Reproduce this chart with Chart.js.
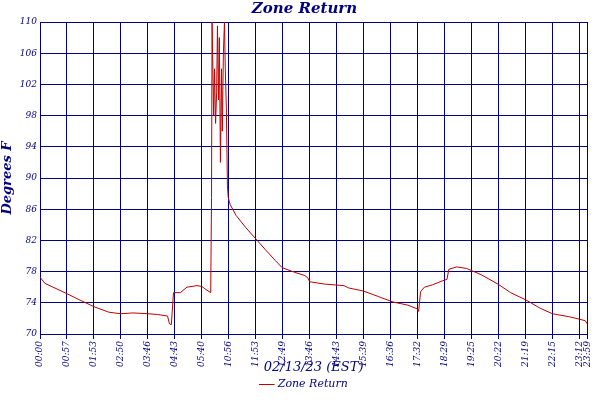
<!DOCTYPE html>
<html><head><meta charset="utf-8">
<script src="https://cdn.jsdelivr.net/npm/chart.js@4"></script>
<style>html,body{margin:0;padding:0;background:#fff}#w{width:600px;height:400px}</style>
</head><body><div id="w"><canvas id="c"></canvas></div>
<script>
const tickPos = [0,1,2,3,4,5,6,7,8,9,10,11,12,13,14,15,16,17,18,19,20,20.29];
const tickLabels = ["00:00","00:57","01:53","02:50","03:46","04:43","05:40","10:56","11:53","12:49","13:46","14:43","15:39","16:36","17:32","18:29","19:25","20:22","21:19","22:15","23:12","23:59"];
const xs = [0,0.18,0.98,1.45,2,2.55,2.98,3.45,4,4.36,4.73,4.8,4.87,4.95,5.2,5.45,5.82,6,6.11,6.33,6.36,6.38,6.44,6.47,6.51,6.55,6.58,6.62,6.65,6.69,6.73,6.76,6.8,6.84,6.87,6.91,6.95,6.98,7.05,7.27,7.64,8,8.36,8.73,8.98,9.45,9.82,9.93,10,10.55,11.27,11.45,12,12.55,13.09,13.64,14,14.04,14.11,14.25,14.55,14.91,15.09,15.16,15.45,15.82,16.36,16.98,17.45,18,18.55,19,19.64,20,20.22,20.29];
const temps = [77.3,76.5,75.2,74.4,73.5,72.8,72.6,72.7,72.6,72.5,72.3,71.3,71.2,75.3,75.3,76.0,76.2,76.1,75.8,75.3,87.5,110,98,104,97,101,109.5,100,108,92,104,96,106,110,104,99,89,87.5,86.6,85.2,83.6,82.2,80.8,79.4,78.5,77.9,77.5,77.2,76.7,76.4,76.2,75.9,75.5,74.8,74.1,73.7,73.2,72.9,75.4,76,76.3,76.8,77,78.3,78.6,78.4,77.6,76.4,75.3,74.4,73.3,72.6,72.2,71.9,71.7,71.3];
const NAVY='#000080';
const F='DejaVu Serif';
new Chart(document.getElementById('c'),{
 type:'line',
 data:{datasets:[{label:'Zone Return',data:xs.map((x,i)=>({x:x,y:temps[i]})),borderColor:'#c00000',backgroundColor:'#c00000',borderWidth:1,pointRadius:0,tension:0}]},
 options:{responsive:true,maintainAspectRatio:false,animation:false,
  layout:{padding:{left:0,right:-9,top:0,bottom:0}},
  plugins:{
   title:{display:true,text:'Zone Return',color:NAVY,font:{family:F,size:15,style:'italic',weight:'bold'},padding:{top:0,bottom:4}},
   legend:{position:'bottom',labels:{color:NAVY,usePointStyle:true,pointStyle:'line',boxWidth:16,padding:4,font:{family:F,size:11,style:'italic'}}},
   tooltip:{enabled:false}
  },
  scales:{
   x:{type:'linear',min:0,max:20.29,
    afterBuildTicks:s=>{s.ticks=tickPos.map(v=>({value:v}));},
    afterFit:s=>{s.height=41;},
    ticks:{autoSkip:false,minRotation:90,maxRotation:90,color:NAVY,padding:2,font:{family:F,size:9,style:'italic'},callback:(v,i)=>tickLabels[i]},
    grid:{color:NAVY,lineWidth:1,drawTicks:true,tickLength:5,tickColor:NAVY},
    border:{color:NAVY,width:1},
    title:{display:true,text:'02/13/23 (EST)',color:NAVY,font:{family:F,size:13,style:'italic'},padding:{top:0,bottom:0}}
   },
   y:{min:70,max:110,
    afterFit:s=>{s.width=40;},
    ticks:{stepSize:4,color:NAVY,padding:3,font:{family:F,size:9,style:'italic'}},
    grid:{color:NAVY,lineWidth:1,drawTicks:false},
    border:{color:NAVY,width:1},
    title:{display:true,text:'Degrees F',color:NAVY,font:{family:F,size:13,style:'italic',weight:'bold'},padding:{top:0,bottom:0}}
   }
  }
 }
});
</script></body></html>
